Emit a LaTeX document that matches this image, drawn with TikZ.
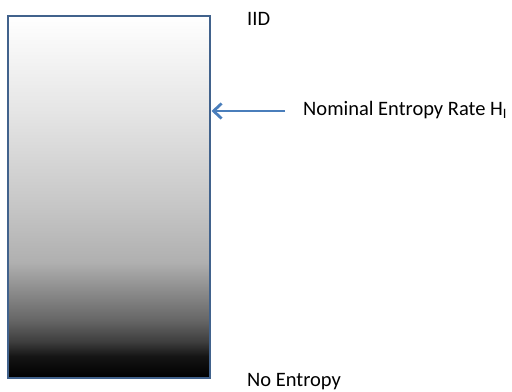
\documentclass[tikz,border=0pt]{standalone}
\usepackage{fontspec}
\setmainfont{Carlito}
\usetikzlibrary{arrows.meta}
\pgfdeclareverticalshading{entropyfade}{100bp}{%
  color(0bp)=(black); color(25bp)=(black);
  color(28bp)=(white!8!black); color(30bp)=(white!24!black);
  color(33bp)=(white!40!black); color(36bp)=(white!51!black);
  color(41bp)=(white!69!black); color(50bp)=(white!79!black);
  color(62bp)=(white!90!black); color(75bp)=(white); color(100bp)=(white)}
\definecolor{boxedge}{HTML}{41628C}
\definecolor{arrowblue}{HTML}{4A7EBB}
\begin{document}
\begin{tikzpicture}[x=1bp, y=1bp,
  label text/.style={font=\fontsize{20.5bp}{24bp}\selectfont, inner sep=0pt, anchor=base west}]
\useasboundingbox (0,0) rectangle (512,391);
% shaded bar
\node[draw=boxedge, line width=1.6bp, shading=entropyfade, minimum width=202bp,
  minimum height=362bp, inner sep=0pt, outer sep=0pt] (bar) at (109,194) {};
\node[label text] (iid) at (247,366) {IID};
\node[label text] (rate) at (303,276) {Nominal Entropy Rate H\textsubscript{I}};
\node[label text] (none) at (247,5) {No Entropy};
% pointer to the bar
\coordinate (tail) at (285,280);
\draw[arrowblue, line width=2.8bp, -{Straight Barb[length=8bp, width=15bp]}, shorten >=1.5bp]
  (tail) -- (tail -| bar.east);
\end{tikzpicture}
\end{document}
